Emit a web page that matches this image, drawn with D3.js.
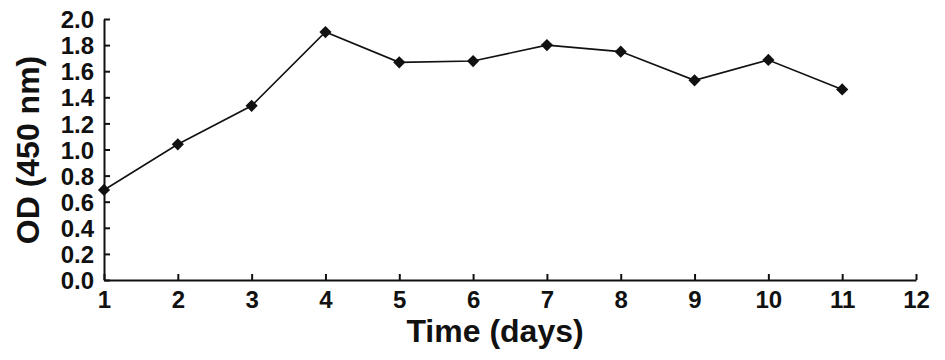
<!DOCTYPE html>
<html>
<head>
<meta charset="utf-8">
<script src="https://cdn.jsdelivr.net/npm/d3@7"></script>
<style>
  body { margin: 0; background: #fff; }
  text { font-family: "Liberation Sans", Arial, sans-serif; font-weight: bold; fill: #111; }
</style>
</head>
<body>
<svg id="chart" width="945" height="360"></svg>
<script>
const days = [1, 2, 3, 4, 5, 6, 7, 8, 9, 10, 11]
const od = [0.69, 1.04, 1.335, 1.90, 1.668, 1.678, 1.80, 1.75, 1.53, 1.686, 1.46]
const xTicks = [1, 2, 3, 4, 5, 6, 7, 8, 9, 10, 11, 12]
const yTicks = [0, 0.2, 0.4, 0.6, 0.8, 1.0, 1.2, 1.4, 1.6, 1.8, 2.0]

const margins = { top: 19, right: 29, bottom: 80, left: 104 }
const width = 945 - margins.left - margins.right
const height = 360 - margins.top - margins.bottom

const x = d3.scaleLinear().domain([1, 12]).range([0, width])
const y = d3.scaleLinear().domain([0, 2]).range([height, 0])

const svg = d3.select('#chart')
const g = svg.append('g').attr('transform', `translate(${margins.left}, ${margins.top})`)

const xAxis = g.append('g')
	.attr('transform', `translate(0, ${height})`)
	.call(d3.axisBottom(x).tickValues(xTicks).tickFormat(d3.format('d')).tickSizeInner(-6).tickSizeOuter(0).tickPadding(9))
xAxis.selectAll('text').attr('font-size', 24).attr('dy', '0.8em')

const yAxis = g.append('g')
	.call(d3.axisLeft(y).tickValues(yTicks).tickFormat(d3.format('.1f')).tickSizeInner(-6).tickSizeOuter(0).tickPadding(10))
yAxis.selectAll('text').attr('font-size', 24).attr('dy', '0.36em')

svg.selectAll('.domain, .tick line').attr('stroke', '#111').attr('stroke-width', 2)

const pts = days.map((d, i) => [d, od[i]])

g.append('path')
	.datum(pts)
	.attr('fill', 'none')
	.attr('stroke', '#111')
	.attr('stroke-width', 1.6)
	.attr('d', d3.line().x(d => x(d[0])).y(d => y(d[1])))

g.selectAll('.pt').data(pts).enter().append('path')
	.attr('class', 'pt')
	.attr('transform', d => `translate(${x(d[0])}, ${y(d[1])})`)
	.attr('d', d3.symbol().type(d3.symbolDiamond2).size(95))
	.attr('fill', '#111')

svg.append('text')
	.attr('x', 495)
	.attr('y', 342)
	.attr('text-anchor', 'middle')
	.attr('font-size', 32)
	.text('Time (days)')

svg.append('text')
	.attr('transform', `translate(39, 150) rotate(-90)`)
	.attr('text-anchor', 'middle')
	.attr('font-size', 32)
	.text('OD (450 nm)')
</script>
</body>
</html>
